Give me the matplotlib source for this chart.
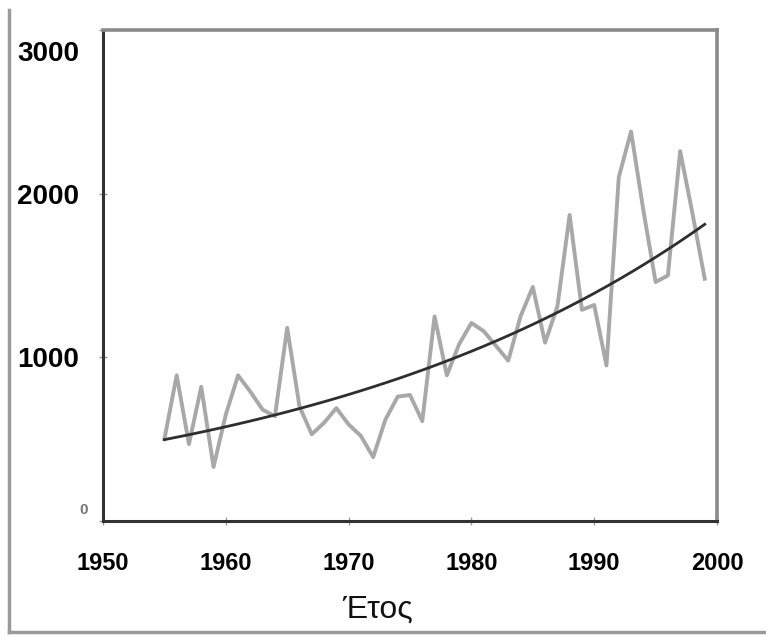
import numpy as np
import matplotlib
matplotlib.use("Agg")
import matplotlib.pyplot as plt
from matplotlib.lines import Line2D
from matplotlib.transforms import ScaledTranslation

# annual values
years = list(range(1955, 2000))
values = [500, 890, 470, 820, 330, 650, 890, 790, 680, 640,
          1180, 700, 530, 600, 690, 590, 520, 390, 620, 760,
          770, 610, 1250, 890, 1080, 1210, 1160, 1070, 980, 1250,
          1430, 1090, 1310, 1870, 1290, 1320, 950, 2100, 2380, 1900,
          1460, 1500, 2260, 1880, 1480]

x_ticks = [1950, 1960, 1970, 1980, 1990, 2000]
y_ticks = [0, 1000, 2000, 3000]
x_label = "Έτος"

C_DATA = "#a8a8a8"
C_TREND = "#2e2e2e"

# exponential trendline (least squares on log values, like a spreadsheet trendline)
yr = np.array(years, dtype=float)
k, b = np.polyfit(yr, np.log(values), 1)
trend = np.exp(b + k * yr)

W, H = 766, 638
fig = plt.figure(figsize=(W / 100, H / 100), dpi=100)
ax = fig.add_axes([103 / W, 1 - 521 / H, (717 - 103) / W, (521 - 30) / H])

ax.plot(years, values, color=C_DATA, lw=2.8, zorder=2, solid_joinstyle="round")
ax.plot(years, trend, color=C_TREND, lw=2.0, zorder=3)

ax.set_xlim(1950, 2000)
ax.set_ylim(0, 3000)
ax.set_xticks(x_ticks)
ax.set_yticks(y_ticks)
ax.set_yticklabels([str(v) for v in y_ticks])

for side in ("left", "bottom"):
    ax.spines[side].set_color("#333333")
    ax.spines[side].set_linewidth(2.2)
for side in ("top", "right"):
    ax.spines[side].set_color("#8a8a8a")
    ax.spines[side].set_linewidth(2.6)

ax.tick_params(axis="both", direction="inout", length=6, width=1, color="#999999")
ax.tick_params(axis="x", pad=19)
ax.tick_params(axis="y", pad=14)
for lab in ax.get_xticklabels():
    lab.set_fontfamily("Liberation Sans")
    lab.set_fontweight("bold")
    lab.set_fontsize(17)
for lab in ax.get_yticklabels():
    lab.set_fontfamily("Liberation Sans")
    lab.set_fontweight("bold")
    lab.set_fontsize(20)

# the "0" label is small and grey, the "3000" label sits below its tick
ylabs = ax.get_yticklabels()
ylabs[0].set_fontsize(11)
ylabs[0].set_color("#777777")
ylabs[0].set_transform(ylabs[0].get_transform()
                       + ScaledTranslation(6 / 72, 9 / 72, fig.dpi_scale_trans))
ylabs[3].set_transform(ylabs[3].get_transform()
                       + ScaledTranslation(0, -15 / 72, fig.dpi_scale_trans))

fig.text(378 / W, 1 - 610 / H, x_label, ha="center", va="center",
         fontsize=23, family="Liberation Sans", color="#111111")

# grey frame from the source screenshot
fig.add_artist(Line2D([9 / W, 9 / W], [1 - 10 / H, 1 - 632 / H],
                      transform=fig.transFigure, color="#9a9a9a", lw=2.5))
fig.add_artist(Line2D([9 / W, 1.0], [1 - 632 / H, 1 - 632 / H],
                      transform=fig.transFigure, color="#9a9a9a", lw=2.5))

fig.savefig("out.png", dpi=100)
